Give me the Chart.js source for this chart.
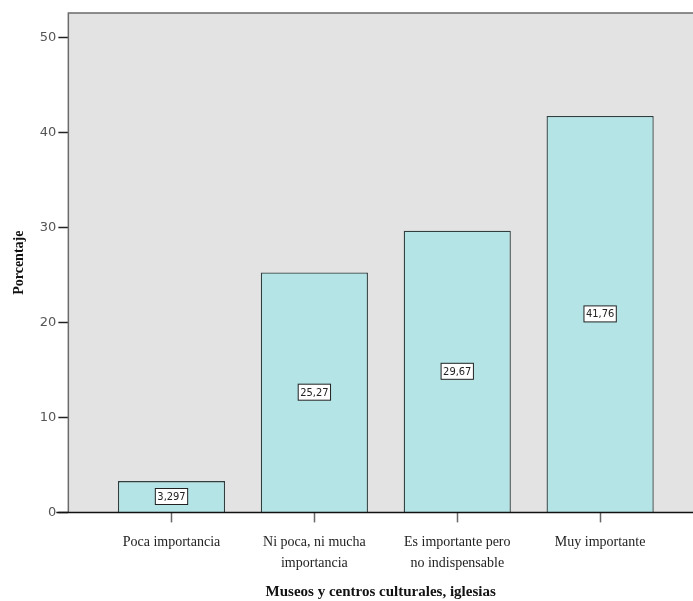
<!DOCTYPE html>
<html>
<head>
<meta charset="utf-8">
<script src="https://cdn.jsdelivr.net/npm/chart.js@4/dist/chart.umd.min.js"></script>
<style>
  html, body { margin: 0; padding: 0; background: #fff; }
  #wrap { width: 693px; height: 601px; }
</style>
</head>
<body>
<div id="wrap"><canvas id="bars"></canvas></div>
<script>
const categories = [
    ['Poca importancia'],
    ['Ni poca, ni mucha', 'importancia'],
    ['Es importante pero', 'no indispensable'],
    ['Muy importante']
];
const percentages = [3.297, 25.27, 29.67, 41.76];
const valueLabels = ['3,297', '25,27', '29,67', '41,76'];
const yTicks = [0, 10, 20, 30, 40, 50];

// gray plot box + frame
const plotBox = {
    id: 'plotBox',
    beforeDatasetsDraw(chart) {
        const a = chart.chartArea;
        const ctx = chart.ctx;
        ctx.save();
        ctx.fillStyle = '#e3e3e3';
        ctx.fillRect(a.left, a.top, a.right - a.left, a.bottom - a.top);
        ctx.strokeStyle = '#6b6b6b';
        ctx.lineWidth = 1.5;
        ctx.beginPath();
        ctx.moveTo(a.left, a.bottom);
        ctx.lineTo(a.left, a.top);
        ctx.lineTo(a.right, a.top);
        ctx.stroke();
        ctx.restore();
    },
    afterDatasetsDraw(chart) {
        const a = chart.chartArea;
        const ctx = chart.ctx;
        ctx.save();
        ctx.strokeStyle = '#111';
        ctx.lineWidth = 1.5;
        ctx.beginPath();
        ctx.moveTo(a.left - 12, a.bottom);
        ctx.lineTo(a.right, a.bottom);
        ctx.stroke();
        // value boxes in the middle of the bars
        const meta = chart.getDatasetMeta(0);
        ctx.font = '11px "DejaVu Sans Condensed", "DejaVu Sans", sans-serif';
        ctx.textAlign = 'center';
        ctx.textBaseline = 'middle';
        meta.data.forEach((bar, i) => {
            const txt = valueLabels[i];
            const cy = (bar.y + bar.base) / 2;
            const w = ctx.measureText(txt).width + 4;
            const h = 16;
            ctx.fillStyle = '#fff';
            ctx.fillRect(bar.x - w / 2, cy - h / 2, w, h);
            ctx.strokeStyle = '#222';
            ctx.lineWidth = 1;
            ctx.strokeRect(bar.x - w / 2, cy - h / 2, w, h);
            ctx.fillStyle = '#222';
            ctx.fillText(txt, bar.x, cy + 0.5);
        });
        ctx.restore();
    }
};

const ctxBars = document.getElementById('bars');
new Chart(ctxBars, {
    type: 'bar',
    data: {
        datasets: [
            {
                label: 'Porcentaje',
                data: percentages.map((v, i) => ({x: i, y: v})),
                backgroundColor: '#b4e4e6',
                borderColor: '#2f3f3f',
                borderWidth: 1.3,
                barPercentage: 0.75,
                categoryPercentage: 1,
            }
        ]
    },
    options: {
        responsive: true,
        maintainAspectRatio: false,
        animation: false,
        layout: {
            padding: {top: 13, right: 0, left: 11, bottom: 0}
        },
        plugins: {
            legend: {display: false},
            tooltip: {enabled: false},
        },
        scales: {
            x: {
                type: 'linear',
                min: -0.722,
                max: 3.65,
                offset: false,
                afterBuildTicks(scale) {
                    scale.ticks = categories.map((c, i) => ({value: i}));
                },
                ticks: {
                    autoSkip: false,
                    maxRotation: 0,
                    color: '#222',
                    padding: 10,
                    font: {family: '"Liberation Serif", serif', size: 14, lineHeight: 1.45},
                    callback: (v) => categories[v],
                },
                grid: {
                    offset: false,
                    drawOnChartArea: false,
                    tickLength: 10,
                    tickColor: '#666',
                    tickWidth: 1.5,
                },
                border: {display: false},
                title: {
                    display: true,
                    text: 'Museos y centros culturales, iglesias',
                    color: '#111',
                    font: {family: '"Liberation Serif", serif', size: 15, weight: 'bold'},
                    padding: {top: 0, bottom: 0},
                },
            },
            y: {
                min: 0,
                max: 52.6,
                afterBuildTicks(scale) {
                    scale.ticks = yTicks.map(v => ({value: v}));
                },
                ticks: {
                    color: '#555',
                    padding: 2,
                    font: {family: '"DejaVu Sans", sans-serif', size: 13},
                },
                grid: {
                    drawOnChartArea: false,
                    tickLength: 10,
                    tickColor: '#222',
                    tickWidth: 1.5,
                },
                border: {display: false},
                title: {
                    display: true,
                    text: 'Porcentaje',
                    color: '#111',
                    font: {family: '"Liberation Serif", serif', size: 14, weight: 'bold'},
                    padding: {top: 0, bottom: 10},
                },
            },
        },
    },
    plugins: [plotBox],
});
</script>
</body>
</html>
